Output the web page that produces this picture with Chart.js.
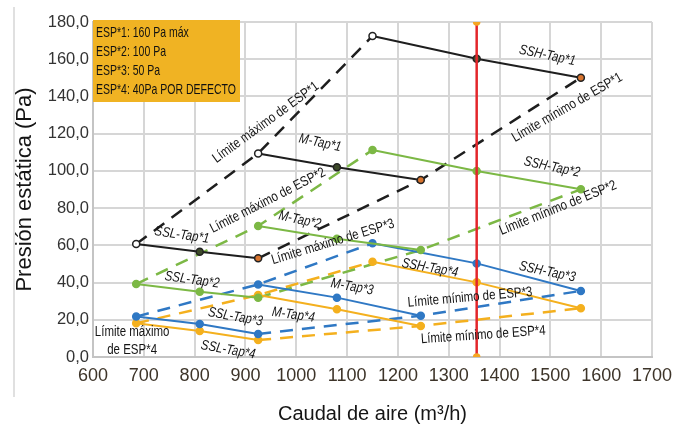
<!DOCTYPE html>
<html>
<head>
<meta charset="utf-8">
<script src="https://cdn.jsdelivr.net/npm/chart.js@4"></script>
<style>
  html, body { margin: 0; padding: 0; background: #fff; }
  #wrap { width: 681px; height: 430px; position: relative; }
</style>
</head>
<body>
<div id="wrap"><canvas id="chart" width="681" height="430"></canvas></div>
<script>
// Caudal (m3/h) for each fan speed step
const flowSSL = [685, 810, 925];
const flowM = [925, 1080, 1245];
const flowSSH = [1150, 1355, 1560];

// Presión estática (Pa) per ESP setting
const sslTap1 = [60.7, 56.6, 53.0];
const mTap1 = [109.4, 101.9, 95.1];
const sshTap1 = [172.5, 160.3, 150.1];
const sslTap2 = [39.2, 35.1, 31.9];
const mTap2 = [70.4, 63.5, 57.5];
const sshTap2 = [111.2, 99.9, 90.1];
const sslTap3 = [21.7, 17.7, 12.4];
const mTap3 = [39.0, 31.9, 22.2];
const sshTap3 = [61.1, 50.3, 35.5];
const sslTap4 = [18.1, 14.0, 9.1];
const mTap4 = [33.3, 25.6, 16.7];
const sshTap4 = [51.2, 40.1, 26.2];

const refFlow = 1355;
const yRange = [0, 180];
const xRange = [600, 1700];

const legendLines = ['ESP*1: 160 Pa máx', 'ESP*2: 100 Pa', 'ESP*3: 50 Pa', 'ESP*4: 40Pa POR DEFECTO'];

const SANS = "'Liberation Sans', Arial, sans-serif";
const SQUEEZE = 0.82; // no narrow face installed, squeeze Liberation Sans instead

const colors = ['#1e1e1e', '#7cb845', '#2f78c4', '#f4b01e'];

const toPts = (xs, ys) => xs.map((x, i) => ({ x: x, y: ys[i] }));

const groups = [
    [sslTap1, mTap1, sshTap1],
    [sslTap2, mTap2, sshTap2],
    [sslTap3, mTap3, sshTap3],
    [sslTap4, mTap4, sshTap4]
];
const flows = [flowSSL, flowM, flowSSH];

const datasets = [];

// dashed limit lines (first / last point of each speed)
groups.forEach((g, k) => {
    const common = { borderColor: colors[k], borderWidth: 2.5, borderDash: [13, 9], pointRadius: 0, fill: false, order: 5 };
    datasets.push(Object.assign({ data: flows.map((f, i) => ({ x: f[0], y: g[i][0] })) }, common));
    datasets.push(Object.assign({ data: flows.map((f, i) => ({ x: f[2], y: g[i][2] })) }, common));
});

// solid tap curves
groups.forEach((g, k) => {
    g.forEach((vals, i) => {
        datasets.push({
            data: toPts(flows[i], vals),
            borderColor: colors[k],
            borderWidth: 2,
            pointRadius: 3.5,
            pointBorderWidth: 1.5,
            pointBorderColor: k === 0 ? '#222' : colors[k],
            pointBackgroundColor: k === 0 ? ['#ffffff', '#3d4a2a', '#d8742e'] : colors[k],
            order: 2
        });
    });
});

// reference flow line
datasets.push({
    data: [{ x: refFlow, y: yRange[0] }, { x: refFlow, y: yRange[1] }],
    borderColor: '#e3262b', borderWidth: 2.5,
    pointRadius: 2.5, pointBackgroundColor: '#f5a623', pointBorderColor: '#f5a623',
    order: 1
});

// curve labels, anchored in data units: [text, flow, pressure, angle deg, italic]
const labels = [
    ['Límite máximo de ESP*1', 940, 126, -36, false],
    ['Límite mínimo de ESP*1', 1533, 134, -30, false],
    ['M-Tap*1', 1047, 115, 12, true],
    ['SSH-Tap*1', 1494, 162, 12, true],
    ['SSH-Tap*2', 1503, 102, 12, true],
    ['Límite máximo de ESP*2', 944, 84, -27, false],
    ['Límite mínimo de ESP*2', 1515, 80, -22, false],
    ['M-Tap*2', 1007, 73.6, 12, true],
    ['SSL-Tap*1', 775, 65.5, 8, true],
    ['Límite máximo de ESP*3', 1072, 61.8, -17, false],
    ['SSL-Tap*2', 795, 41.4, 8, true],
    ['SSH-Tap*4', 1263, 47.8, 10, true],
    ['SSH-Tap*3', 1494, 45.7, 12, true],
    ['M-Tap*3', 1110, 37.6, 10, true],
    ['Límite mínimo de ESP*3', 1342, 32, -5, false],
    ['M-Tap*4', 994, 22.6, 8, true],
    ['SSL-Tap*3', 880, 21.5, 10, true],
    ['Límite máximo', 677, 13.4, 0, false],
    ['de ESP*4', 677, 3.8, 0, false],
    ['SSL-Tap*4', 866, 3.8, 10, true],
    ['Límite mínimo de ESP*4', 1368, 11.8, -4, false]
];

const decorations = {
    id: 'decorations',
    beforeDraw(chart) {
        const c = chart.ctx;
        c.save();
        c.fillStyle = '#fff';
        c.fillRect(0, 0, chart.width, chart.height);
        c.strokeStyle = '#d6d6d6';
        c.lineWidth = 1.5;
        c.beginPath(); c.moveTo(14, 7); c.lineTo(14, 397); c.stroke();
        c.restore();
    },
    afterDatasetsDraw(chart) {
        const c = chart.ctx;
        const xs = chart.scales.x, ys = chart.scales.y;
        c.save();
        c.fillStyle = '#151515';
        c.textAlign = 'center';
        c.textBaseline = 'middle';
        labels.forEach(([t, fx, py, ang, it]) => {
            c.save();
            c.translate(xs.getPixelForValue(fx), ys.getPixelForValue(py));
            c.rotate(ang * Math.PI / 180);
            c.scale(SQUEEZE, 1);
            c.font = (it ? 'italic ' : '') + '14px ' + SANS;
            c.fillText(t, 0, 0);
            c.restore();
        });
        // ESP legend box
        const a = chart.chartArea;
        c.fillStyle = '#f0b323';
        c.fillRect(a.left, a.top - 2, 147, 82);
        c.fillStyle = '#111';
        c.textAlign = 'left';
        c.font = '15px ' + SANS;
        legendLines.forEach((t, i) => {
            c.save();
            c.translate(a.left + 3, a.top + 11 + i * 19);
            c.scale(0.7, 1);
            c.fillText(t, 0, 0);
            c.restore();
        });
        c.restore();
    }
};

new Chart(document.getElementById('chart'), {
    type: 'line',
    data: { datasets: datasets },
    options: {
        responsive: false,
        animation: false,
        layout: { padding: { left: 0, right: 29, top: 22, bottom: 0 } },
        plugins: { legend: { display: false }, tooltip: { enabled: false } },
        scales: {
            x: {
                type: 'linear', min: xRange[0], max: xRange[1],
                afterFit: (s) => { s.height = 73; },
                grid: { color: '#d6d6d6', lineWidth: 2, drawTicks: false },
                border: { color: '#c4c4c4', width: 2 },
                ticks: {
                    stepSize: 100, padding: 8, color: '#3d3429', maxRotation: 0, minRotation: 0, autoSkip: false,
                    font: { family: SANS, size: 18 },
                    callback: (v) => String(v)
                },
                title: { display: true, text: 'Caudal de aire (m³/h)', color: '#151515', padding: { top: 0, bottom: 4 }, font: { family: SANS, size: 20 } }
            },
            y: {
                min: yRange[0], max: yRange[1],
                afterFit: (s) => { s.width = 93; },
                grid: { color: '#d6d6d6', lineWidth: 2, drawTicks: false },
                border: { color: '#c4c4c4', width: 2 },
                ticks: {
                    stepSize: 20, padding: 4, color: '#333', font: { family: SANS, size: 16.5 },
                    callback: (v) => v.toFixed(1).replace('.', ',')
                },
                title: { display: true, text: 'Presión estática (Pa)', color: '#151515', padding: { top: 12, bottom: 0 }, font: { family: SANS, size: 22 } }
            }
        }
    },
    plugins: [decorations]
});
</script>
</body>
</html>
